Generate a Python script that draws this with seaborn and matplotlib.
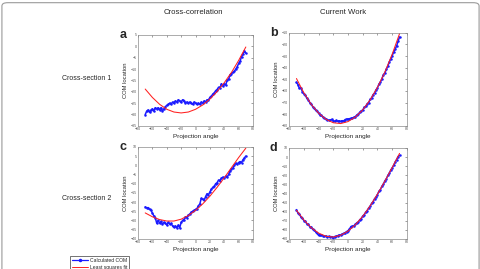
import matplotlib
matplotlib.use("Agg")
import matplotlib.pyplot as plt
from matplotlib.lines import Line2D
from matplotlib.patches import FancyBboxPatch
import numpy as np
import pandas as pd
import seaborn as sns

# Dados
angles = np.arange(-70, 71, 2)
fit_angles = np.arange(-70, 71, 10)

com_a = [-30.0, -28.5, -28.0, -29.0, -28.0, -27.5, -28.5, -27.0, -27.5, -27.0,
         -28.0, -27.0, -28.5, -27.5, -26.5, -26.0, -25.5, -25.0, -25.5, -24.5,
         -25.0, -24.0, -24.5, -23.5, -24.0, -24.5, -23.5, -24.0, -25.0, -24.5,
         -25.0, -24.5, -25.0, -25.5, -24.5, -25.0, -25.5, -25.0, -25.5, -24.5,
         -25.0, -24.0, -24.5, -23.5, -23.5, -22.5, -22.0, -21.0, -20.5, -19.5,
         -19.0, -18.0, -18.5, -16.5, -17.5, -16.5, -17.0, -15.0, -14.5, -12.5,
         -12.0, -11.5, -11.0, -10.0, -9.0, -7.5, -6.5, -4.5, -3.5, -2.0, -3.0]
fit_a = [-18.8, -22.5, -25.5, -27.7, -28.9, -29.3, -28.9, -27.7, -25.8, -23.2,
         -19.9, -16.0, -11.5, -6.2, -0.3]

com_b = [-52.5, -54.5, -57.8, -57.2, -60.5, -62.2, -63.5, -66.2, -67.4, -69.9,
         -71.0, -73.5, -74.4, -76.6, -77.3, -79.2, -80.6, -81.0, -82.5, -83.0,
         -84.0, -84.6, -85.2, -85.0, -84.4, -85.6, -85.9, -85.3, -86.0, -85.7,
         -86.2, -85.5, -85.8, -84.6, -84.0, -84.3, -83.8, -83.5, -83.2, -82.6,
         -82.0, -80.6, -79.8, -78.2, -77.0, -76.4, -74.0, -73.3, -71.0, -69.9,
         -67.3, -65.9, -63.2, -61.8, -59.0, -57.3, -54.0, -52.3, -49.6, -46.0,
         -44.5, -41.5, -38.6, -35.2, -32.4, -29.6, -26.5, -24.0, -21.3, -17.2, -13.5]
fit_b = [-49.3, -61.5, -71.4, -79.0, -84.3, -87.3, -88.0, -86.3, -82.4, -76.2,
         -67.7, -56.9, -43.8, -28.4, -10.7]

com_c = [-22.6, -23.2, -23.0, -24.0, -24.5, -26.0, -27.5, -28.5, -31.5, -30.0,
         -31.5, -30.5, -32.0, -31.0, -31.5, -32.5, -31.0, -32.0, -31.5, -33.0,
         -33.5, -33.0, -34.0, -32.5, -34.0, -31.0, -30.0, -29.5, -28.0, -28.5,
         -27.0, -26.5, -25.5, -25.0, -24.5, -24.0, -23.5, -22.0, -21.0, -18.0,
         -18.5, -19.0, -17.0, -15.5, -16.0, -14.5, -13.0, -12.0, -11.5, -10.0,
         -9.5, -8.0, -8.5, -7.0, -6.5, -7.0, -6.0, -6.5, -5.0, -3.0,
         -2.0, -1.5, 0.0, 1.0, 0.5, 1.5, 2.0, 1.5, 3.0, 4.0, 5.0]
fit_c = [-25.9, -28.0, -29.5, -30.3, -30.3, -29.3, -27.3, -24.5, -21.0, -16.8,
         -12.0, -6.8, -1.3, 4.2, 9.3]

com_d = [-57.8, -61.5, -62.6, -65.8, -66.9, -69.8, -70.5, -73.4, -74.0, -76.6,
         -77.1, -79.5, -80.0, -82.2, -83.5, -86.2, -85.3, -86.0, -86.4, -87.2,
         -86.8, -87.9, -87.3, -88.2, -87.5, -88.6, -87.4, -86.9, -86.5, -85.6,
         -85.8, -84.6, -84.0, -83.2, -82.0, -81.0, -79.2, -76.4, -76.0, -75.6,
         -74.0, -72.2, -71.4, -68.9, -67.6, -64.8, -63.5, -60.5, -59.0, -56.0,
         -54.2, -51.0, -49.2, -45.9, -44.0, -41.2, -37.6, -35.8, -32.1, -30.0,
         -26.2, -24.1, -20.3, -18.0, -14.3, -12.0, -8.9, -5.6, -2.8, 0.5, 1.8]
fit_d = [-58.6, -69.2, -77.6, -83.6, -87.1, -88.0, -86.0, -81.5, -74.5, -65.2,
         -53.8, -40.8, -26.6, -11.5, 4.0]

col_titles = ["Cross-correlation", "Current Work"]
row_titles = ["Cross-section 1", "Cross-section 2"]
letters = ["a", "b", "c", "d"]
legend_labels = ["Calculated COM", "Least squares fit"]

sns.set_style("white")
plt.rcParams['font.family'] = ['Liberation Sans', 'DejaVu Sans']

BLUE = '#1a1aff'
RED = '#ff2020'

fig = plt.figure(figsize=(4.81, 2.69), dpi=100)

# Moldura arredondada
frame = FancyBboxPatch((0.004, -0.2), 0.992, 1.19, boxstyle="round,pad=0,rounding_size=0.012",
                       transform=fig.transFigure, fill=False, edgecolor='#9a9a9a', linewidth=0.8)
fig.patches.append(frame)

panels = [
    (com_a, fit_a, [0.287, 0.532, 0.239, 0.338], (-35, 5), 5),
    (com_b, fit_b, [0.601, 0.532, 0.245, 0.346], (-90, -10), 10),
    (com_c, fit_c, [0.287, 0.112, 0.239, 0.342], (-40, 10), 5),
    (com_d, fit_d, [0.601, 0.112, 0.245, 0.338], (-90, 10), 10),
]

for i, (com, fit, rect, ylim, ystep) in enumerate(panels):
    ax = fig.add_axes(rect)
    df = pd.DataFrame({'angle': angles, 'com': com})
    dfit = pd.DataFrame({'angle': fit_angles, 'fit': fit})
    sns.lineplot(data=df, x='angle', y='com', ax=ax, color=BLUE, linewidth=1.1,
                 marker='o', markersize=1.8, markeredgewidth=0, errorbar=None)
    sns.lineplot(data=dfit, x='angle', y='fit', ax=ax, color=RED, linewidth=0.75, errorbar=None)
    ax.set_xlim(-80, 80)
    ax.set_ylim(*ylim)
    ax.set_xticks(np.arange(-80, 81, 20))
    ax.set_yticks(np.arange(ylim[0], ylim[1] + 1, ystep))
    ax.tick_params(direction='in', top=True, right=True, length=1.5, width=0.4,
                   labelsize=2.6, pad=1, colors='#555555')
    for sp in ax.spines.values():
        sp.set_color('#8a8a8a')
        sp.set_linewidth(0.5)
    ax.set_xlabel('Projection angle', fontsize=4.6, labelpad=2)
    ax.set_ylabel('COM location', fontsize=4.2, labelpad=2)
    ax.text(-0.13, 1.0, letters[i], transform=ax.transAxes, fontsize=9,
            fontweight='bold', ha='center', va='center')

fig.text(193 / 481, 1 - 12 / 269, col_titles[0], fontsize=5.6, ha='center', va='center')
fig.text(343 / 481, 1 - 12 / 269, col_titles[1], fontsize=5.6, ha='center', va='center')
fig.text(111 / 481, 1 - 79 / 269, row_titles[0], fontsize=5.0, ha='right', va='center')
fig.text(111 / 481, 1 - 198 / 269, row_titles[1], fontsize=5.0, ha='right', va='center')

handles = [Line2D([], [], color=BLUE, linewidth=0.9, marker='o', markersize=1.5),
           Line2D([], [], color=RED, linewidth=0.7)]
leg = fig.legend(handles, legend_labels, loc='upper left', bbox_to_anchor=(67 / 481, 1 - 253 / 269),
                 fontsize=3.6, frameon=True, fancybox=False, handlelength=3.2,
                 borderpad=0.4, labelspacing=0.5, handletextpad=0.5)
leg.get_frame().set_edgecolor('#333333')
leg.get_frame().set_linewidth(0.6)

fig.savefig('out.png', dpi=100)
